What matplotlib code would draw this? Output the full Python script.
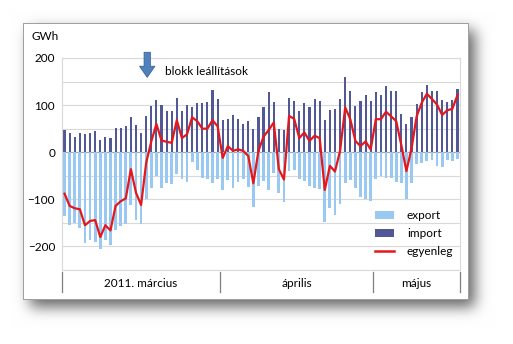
import numpy as np
import matplotlib as mpl
mpl.use('Agg')
import matplotlib.pyplot as plt
from matplotlib.patches import Patch
from matplotlib.lines import Line2D
import matplotlib.transforms as mtransforms

# napi adatok, 2011. március 1. - május 17. (GWh)
import_vals = [48, 40, 32, 40, 38, 41, 46, 26, 32, 30, 52, 52, 55, 75, 57, 40,
               77, 99, 111, 100, 88, 88, 115, 87, 101, 95, 104, 105, 107, 133, 112,
               69, 71, 79, 70, 60, 66, 50, 74, 95, 127, 107, 50, 47, 116, 108,
               87, 104, 95, 112, 109, 69, 90, 92, 113, 160, 129, 99, 109, 122, 109,
               127, 121, 140, 130, 129, 81, 60, 74, 102, 127, 143, 130, 130, 111, 106, 111, 135]
export_vals = [-136, -154, -151, -161, -193, -187, -190, -206, -187, -196, -166, -156, -153, -111, -143, -152,
               -99, -76, -51, -75, -66, -68, -47, -57, -63, -21, -38, -55, -57, -65, -57,
               -81, -58, -76, -64, -57, -74, -116, -71, -62, -80, -44, -86, -105, -39, -37,
               -57, -62, -71, -77, -79, -149, -119, -133, -110, -65, -59, -75, -96, -99, -103,
               -57, -51, -54, -54, -63, -66, -100, -66, -26, -22, -19, -17, -29, -32, -17, -19, -14]
balance_vals = [-88, -114, -119, -121, -155, -146, -144, -180, -155, -166, -114, -104, -98, -36, -86, -112,
                -22, 23, 60, 25, 22, 20, 68, 30, 38, 74, 66, 50, 50, 68, 55,
                -12, 13, 3, 6, 3, -8, -66, 3, 33, 47, 63, -36, -58, 77, 71,
                30, 42, 24, 35, 30, -80, -29, -41, 3, 95, 70, 24, 13, 23, 6,
                70, 70, 86, 76, 66, 15, -40, 8, 76, 105, 124, 113, 101, 79, 89, 92, 121]
months = ['2011. március', 'április', 'május']
month_days = [31, 30, 17]
y_ticks = [-200, -100, 0, 100, 200]

plt.rcParams['font.family'] = ['Lato', 'DejaVu Sans']

W, H = 513, 344
fig = plt.figure(figsize=(W / 100, H / 100), dpi=100)

# háttér: fehér keret árnyékkal
bg = np.ones((H, W, 3))
mask = np.zeros((H, W))
mask[30:307, 30:475] = 1.0
k = np.exp(-0.5 * (np.arange(-20, 21) / 7.0) ** 2)
k /= k.sum()
mask = np.apply_along_axis(lambda r: np.convolve(r, k, mode='same'), 1, mask)
mask = np.apply_along_axis(lambda c: np.convolve(c, k, mode='same'), 0, mask)
bg *= (1 - 0.6 * mask)[:, :, None]
bg[23:300, 23:469] = 0.63
bg[24:299, 24:468] = 1.0
fig.figimage(bg, 0, 0, origin='upper', zorder=-10)

ax = fig.add_axes([62 / W, 74 / H, 398 / W, 212 / H])
days = np.arange(len(import_vals))
ax.bar(days, export_vals, width=0.55, color='#99C9F2', zorder=2)
ax.bar(days, import_vals, width=0.42, color='#525796', zorder=2)
ax.axhline(0, color='#A6A6A6', lw=0.8, zorder=1)
ax.plot(days, balance_vals, color='#E5161C', lw=1.6, zorder=3)

ax.set_xlim(-0.5, len(days) - 0.5)
ax.set_ylim(-250, 200)
ax.set_yticks(y_ticks)
ax.set_yticks(np.arange(-250, 201, 50), minor=True)
ax.grid(True, axis='y', which='both', color='#D9D9D9', lw=0.8, zorder=0)
ax.set_axisbelow(True)
ax.set_xticks([])
ax.tick_params(axis='y', which='both', length=0, labelsize=8.5, pad=5)
for s in ax.spines.values():
    s.set_color('#D9D9D9')
    s.set_linewidth(0.8)

fig.text(32 / W, 1 - 37 / H, 'GWh', fontsize=8.5, va='center', ha='left')

# hónapok sávja
trans = mtransforms.blended_transform_factory(ax.transData, ax.transAxes)
edges = np.concatenate([[0], np.cumsum(month_days)]) - 0.5
for e in edges:
    ax.plot([e, e], [-0.01, -0.105], transform=trans, color='#7F7F7F', lw=0.9, clip_on=False)
for m, a, b in zip(months, edges[:-1], edges[1:]):
    ax.text((a + b) / 2, -0.062, m, transform=trans, ha='center', va='center', fontsize=8.5)

# blokk leállítások jelölés
ax.annotate('', xy=(16.2, 153), xytext=(16.2, 218),
            arrowprops=dict(arrowstyle='simple,head_width=1.1,head_length=0.8,tail_width=0.45',
                            fc='#4F81BD', ec='#3A6496', lw=0.6),
            annotation_clip=False, zorder=5)
ax.text(19.7, 172, 'blokk leállítások', fontsize=8.5, va='center', ha='left', zorder=5)

handles = [Patch(facecolor='#99C9F2', edgecolor='none'),
           Patch(facecolor='#525796', edgecolor='none'),
           Line2D([], [], color='#E5161C', lw=1.8)]
leg = ax.legend(handles, ['export', 'import', 'egyenleg'], loc='lower right',
                bbox_to_anchor=(1.01, 0.01), frameon=False, fontsize=8.5,
                handlelength=1.6, handleheight=0.6, labelspacing=0.6, handletextpad=1.1)
leg.set_zorder(6)

fig.savefig('out.png', dpi=100)
